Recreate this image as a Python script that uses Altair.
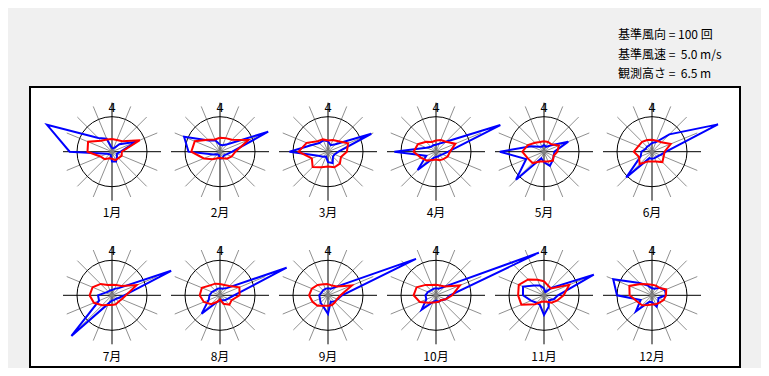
import altair as alt
import pandas as pd

months = [f"{m}月" for m in range(1, 13)]
directions = ["N", "NNE", "NE", "ENE", "E", "ESE", "SE", "SSE",
              "S", "SSW", "SW", "WSW", "W", "WNW", "NW", "NNW"]

# wind direction frequency (counts) per month, 16 directions from N clockwise
freq = [
    [10, 10, 30, 75, 25, 15, 20, 30, 28, 10, 10, 15, 121, 201, 55, 40],
    [20, 20, 30, 149, 35, 20, 15, 20, 20, 10, 10, 20, 90, 111, 45, 35],
    [30, 20, 30, 134, 30, 20, 20, 35, 30, 15, 20, 30, 110, 50, 35, 35],
    [20, 25, 40, 199, 35, 20, 15, 15, 15, 20, 74, 30, 119, 30, 20, 20],
    [20, 15, 25, 75, 30, 30, 35, 44, 30, 20, 113, 55, 126, 40, 20, 15],
    [25, 30, 70, 204, 40, 25, 20, 20, 20, 20, 104, 35, 30, 20, 20, 20],
    [15, 20, 30, 183, 35, 20, 15, 15, 15, 25, 164, 40, 40, 20, 15, 15],
    [20, 20, 30, 206, 40, 25, 20, 15, 15, 20, 74, 35, 30, 25, 20, 20],
    [20, 20, 35, 272, 40, 30, 25, 20, 53, 35, 30, 25, 25, 20, 20, 20],
    [20, 20, 35, 318, 40, 30, 20, 20, 15, 20, 58, 30, 30, 25, 20, 20],
    [20, 10, 30, 154, 40, 30, 20, 35, 56, 30, 30, 40, 60, 65, 40, 30],
    [20, 20, 30, 40, 40, 20, 25, 35, 20, 20, 65, 35, 100, 120, 50, 30],
]

# mean wind speed (m/s) per month, 16 directions from N clockwise
speed = [
    [1.8, 1.8, 2.1, 4.3, 1.4, 1.5, 1.3, 1.3, 1.0, 1.0, 1.5, 1.8, 3.5, 3.7, 2.2, 1.9],
    [2.0, 2.1, 2.4, 4.4, 2.2, 1.8, 1.4, 1.0, 0.9, 1.0, 1.5, 2.5, 4.1, 3.9, 2.4, 1.9],
    [1.6, 1.8, 2.1, 3.1, 2.7, 2.0, 2.4, 2.4, 2.1, 2.4, 3.1, 2.5, 4.2, 3.3, 2.1, 1.9],
    [1.6, 1.8, 2.0, 3.0, 2.0, 1.8, 1.5, 1.3, 1.1, 1.3, 1.8, 2.3, 3.2, 2.8, 2.0, 1.5],
    [1.5, 1.5, 1.5, 2.3, 1.9, 1.5, 1.8, 1.5, 1.4, 1.5, 2.3, 2.5, 3.1, 2.5, 1.8, 1.5],
    [1.7, 1.7, 1.9, 2.9, 1.8, 1.8, 2.1, 1.5, 1.4, 1.5, 2.5, 2.0, 2.6, 2.1, 2.0, 1.8],
    [1.5, 1.6, 1.9, 3.8, 2.0, 1.5, 1.3, 1.4, 1.4, 1.5, 2.0, 2.8, 3.2, 3.0, 2.3, 1.6],
    [1.6, 1.6, 1.9, 3.0, 2.8, 1.8, 1.9, 1.3, 0.6, 1.0, 1.8, 2.5, 2.9, 2.8, 2.0, 1.8],
    [1.6, 1.5, 1.8, 3.7, 1.8, 1.4, 1.4, 1.5, 1.5, 1.6, 2.1, 2.4, 2.7, 2.5, 2.1, 1.7],
    [1.5, 1.5, 1.8, 3.7, 2.3, 1.5, 1.0, 1.0, 1.0, 1.1, 1.5, 2.5, 3.2, 3.0, 2.1, 1.6],
    [2.0, 1.5, 1.4, 3.9, 2.8, 2.0, 1.5, 1.0, 0.9, 1.0, 1.8, 3.5, 3.7, 3.9, 3.2, 2.4],
    [1.5, 1.5, 1.5, 2.2, 2.0, 1.8, 1.5, 1.4, 1.3, 1.5, 2.0, 2.3, 3.2, 3.5, 2.3, 1.7],
]

ref_freq = 100
ref_speed = 5.0
info_lines = ["基準風向 = 100 回", "基準風速 =\u00a0 5.0 m/s", "観測高さ =\u00a0 6.5 m"]
north_label = "4"

# ---- build tables from the arrays ----
rows = []
for m in range(12):
    for series, vals, ref in (("freq", freq[m], ref_freq), ("speed", speed[m], ref_speed)):
        for i in range(17):
            rows.append({"m": m, "series": series, "key": f"{m}-{series}",
                         "i": i, "ratio": vals[i % 16] / ref})
poly = pd.DataFrame(rows)
spokes = pd.DataFrame([{"m": m, "i": i, "axis": "a" if i % 4 == 0 else "g"}
                       for m in range(12) for i in range(16)])
centers = pd.DataFrame({"m": list(range(12)), "label": months})

FONT = "Noto Sans CJK JP"
xs = alt.Scale(domain=[8, 761], nice=False, zero=False)
ys = alt.Scale(domain=[8, 368], nice=False, zero=False, reverse=True)
R = 35  # pixels per reference unit


def place(ch):
    return ch.transform_calculate(
        cx="112 + 108 * (datum.m % 6)",
        cy="151.7 + 143.6 * floor(datum.m / 6)",
    )


X = lambda f: alt.X(f, type="quantitative", scale=xs, axis=None)
Y = lambda f: alt.Y(f, type="quantitative", scale=ys, axis=None)

box = alt.Chart(pd.DataFrame({"a": [0]})).mark_rect(
    fill="white", stroke="black", strokeWidth=2
).encode(x=alt.value(22), x2=alt.value(732), y=alt.value(79), y2=alt.value(359))

spoke_layer = place(alt.Chart(spokes)).transform_calculate(
    ang="datum.i * PI / 8",
).transform_calculate(
    ex=f"datum.cx + {R}*1.4*sin(datum.ang)",
    ey=f"datum.cy - {R}*1.4*cos(datum.ang)",
).mark_rule(strokeWidth=1).encode(
    x=X("cx"), y=Y("cy"), x2="ex:Q", y2="ey:Q",
    color=alt.Color("axis:N", scale=alt.Scale(domain=["g", "a"], range=["#909090", "#000000"]), legend=None),
    order=alt.Order("axis:N", sort="descending"),
)

circle = place(alt.Chart(centers)).mark_point(
    shape="circle", size=(2 * R) ** 2, filled=False, stroke="black", strokeWidth=1, opacity=1
).encode(x=X("cx"), y=Y("cy"))


def poly_layer(series, color):
    return place(alt.Chart(poly)).transform_filter(
        alt.datum.series == series
    ).transform_calculate(
        ang="datum.i * PI / 8",
    ).transform_calculate(
        px=f"datum.cx + {R}*datum.ratio*sin(datum.ang)",
        py=f"datum.cy - {R}*datum.ratio*cos(datum.ang)",
    ).mark_line(color=color, strokeWidth=2, strokeJoin="miter").encode(
        x=X("px"), y=Y("py"), order="i:Q", detail="key:N"
    )


dot = place(alt.Chart(centers)).mark_point(
    shape="circle", size=25, filled=True, color="#808080", opacity=1
).encode(x=X("cx"), y=Y("cy"))

nlab = place(alt.Chart(centers)).transform_calculate(
    ny="datum.cy - 44", t=f"'{north_label}'"
).mark_text(font="DejaVu Sans", fontSize=12, fontWeight="normal", baseline="middle",
            align="center", color="black").encode(
    x=X("cx"), y=Y("ny"), text="t:N"
)

mlab = place(alt.Chart(centers)).transform_calculate(
    ly="datum.cy + 61.5"
).mark_text(font=FONT, fontSize=12, baseline="middle", align="center", color="black").encode(
    x=X("cx"), y=Y("ly"), text="label:N"
)

info = [
    alt.Chart(pd.DataFrame({"t": [line]})).mark_text(
        font=FONT, fontSize=12, baseline="middle", align="left", color="black"
    ).encode(x=alt.value(610), y=alt.value(27 + 19.5 * k), text="t:N")
    for k, line in enumerate(info_lines)
]

chart = alt.layer(
    box, spoke_layer, circle,
    poly_layer("freq", "#0000ff"), poly_layer("speed", "#ff0000"),
    dot, nlab, mlab, *info
).properties(
    width=753, height=360, background="#f0f0f0", padding=0,
    autosize=alt.AutoSizeParams(type="none"),
).configure_view(stroke=None)

chart.save("out.html", embed_options={"renderer": "svg", "actions": False})
